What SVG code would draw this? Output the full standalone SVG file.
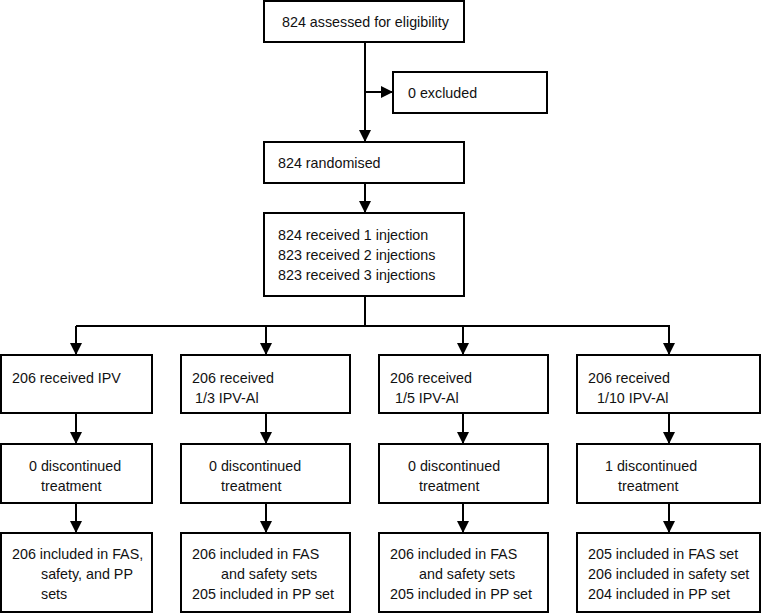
<svg xmlns="http://www.w3.org/2000/svg" width="762" height="614" viewBox="0 0 762 614">
<style>
rect.box{fill:#fff;stroke:#000;stroke-width:2}
text{font-family:"Liberation Sans",Arial,sans-serif;font-size:14.3px;fill:#111}
.conn path{fill:none;stroke:#000;stroke-width:2}
</style>
<defs>
<marker id="ah" markerUnits="userSpaceOnUse" markerWidth="12" markerHeight="12" refX="12" refY="6" orient="auto">
<path d="M0,0 L12,6 L0,12 Z" fill="#000"/>
</marker>
</defs>
<rect width="762" height="614" fill="#fff"/>
<g class="conn" id="connectors">
<path d="M365,42 V142" marker-end="url(#ah)"/>
<path d="M365,92 H393" marker-end="url(#ah)"/>
<path d="M365,183 V213" marker-end="url(#ah)"/>
<path d="M365,296 V326"/>
<path d="M76,326 H670"/>
<path d="M76,326 V355" marker-end="url(#ah)"/>
<path d="M266,326 V355" marker-end="url(#ah)"/>
<path d="M463,326 V355" marker-end="url(#ah)"/>
<path d="M669,326 V355" marker-end="url(#ah)"/>
<path d="M76,413 V444" marker-end="url(#ah)"/>
<path d="M266,413 V444" marker-end="url(#ah)"/>
<path d="M463,413 V444" marker-end="url(#ah)"/>
<path d="M669,413 V444" marker-end="url(#ah)"/>
<path d="M76,503 V533" marker-end="url(#ah)"/>
<path d="M266,503 V533" marker-end="url(#ah)"/>
<path d="M463,503 V533" marker-end="url(#ah)"/>
<path d="M669,503 V533" marker-end="url(#ah)"/>
</g>
<g id="assessed"><rect class="box" x="264" y="1" width="200" height="41"/><text x="282" y="27">824 assessed for eligibility</text></g>
<g id="excluded"><rect class="box" x="393" y="72" width="154" height="41"/><text x="408" y="98">0 excluded</text></g>
<g id="randomised"><rect class="box" x="264" y="142" width="200" height="41"/><text x="278" y="168">824 randomised</text></g>
<g id="injections"><rect class="box" x="264" y="213" width="200" height="83"/>
<text x="278" y="240">824 received 1 injection</text>
<text x="278" y="260">823 received 2 injections</text>
<text x="278" y="280">823 received 3 injections</text></g>

<g id="ipv"><rect class="box" x="1" y="355" width="151" height="58"/><text x="12" y="383">206 received IPV</text></g>
<g id="ipv13"><rect class="box" x="181" y="355" width="169" height="58"/><text x="192" y="383">206 received</text><text x="195" y="403">1/3 IPV-Al</text></g>
<g id="ipv15"><rect class="box" x="379" y="355" width="169" height="58"/><text x="390" y="383">206 received</text><text x="395" y="403">1/5 IPV-Al</text></g>
<g id="ipv110"><rect class="box" x="577" y="355" width="183" height="58"/><text x="588" y="383">206 received</text><text x="597" y="403">1/10 IPV-Al</text></g>

<g id="disc1"><rect class="box" x="1" y="444" width="151" height="59"/><text x="29" y="471">0 discontinued</text><text x="41" y="491">treatment</text></g>
<g id="disc2"><rect class="box" x="181" y="444" width="169" height="59"/><text x="209" y="471">0 discontinued</text><text x="221" y="491">treatment</text></g>
<g id="disc3"><rect class="box" x="379" y="444" width="169" height="59"/><text x="408" y="471">0 discontinued</text><text x="419" y="491">treatment</text></g>
<g id="disc4"><rect class="box" x="577" y="444" width="183" height="59"/><text x="605" y="471">1 discontinued</text><text x="618" y="491">treatment</text></g>

<g id="sets1"><rect class="box" x="1" y="533" width="151" height="79"/><text x="12" y="559">206 included in FAS,</text><text x="41" y="579">safety, and PP</text><text x="41" y="599">sets</text></g>
<g id="sets2"><rect class="box" x="181" y="533" width="169" height="79"/><text x="192" y="559">206 included in FAS</text><text x="221" y="579">and safety sets</text><text x="192" y="599">205 included in PP set</text></g>
<g id="sets3"><rect class="box" x="379" y="533" width="169" height="79"/><text x="390" y="559">206 included in FAS</text><text x="419" y="579">and safety sets</text><text x="390" y="599">205 included in PP set</text></g>
<g id="sets4"><rect class="box" x="577" y="533" width="183" height="79"/><text x="588" y="559">205 included in FAS set</text><text x="588" y="579">206 included in safety set</text><text x="588" y="599">204 included in PP set</text></g>
</svg>
